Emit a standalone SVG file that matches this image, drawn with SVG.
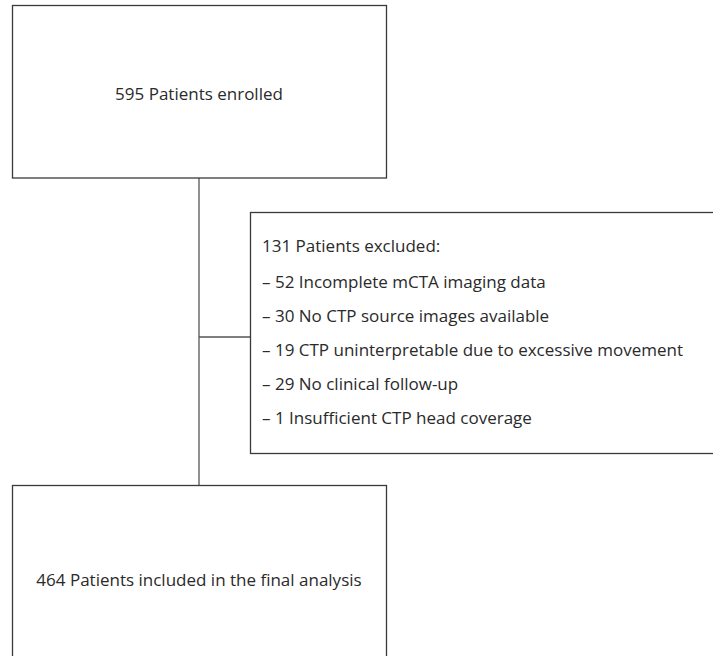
<svg xmlns="http://www.w3.org/2000/svg" width="713" height="656" viewBox="0 0 713 656">
<style>
.box{fill:#fff;stroke:#3a3a3a;stroke-width:1.3}
.ln{stroke:#555;stroke-width:1.3;fill:none}
text{font-family:"Open Sans","Liberation Sans",sans-serif;font-size:17px;fill:#2a2a2a}
.c{text-anchor:middle}
</style>
<rect width="713" height="656" fill="#fff"/>
<g id="connectors">
<line class="ln" x1="199" y1="178" x2="199" y2="485"/>
<line class="ln" x1="199" y1="337" x2="250" y2="337"/>
</g>
<g id="enrolled">
<rect class="box" x="12.5" y="5.5" width="374" height="172.5"/>
<text class="c" x="199" y="100">595 Patients enrolled</text>
</g>
<g id="excluded">
<rect class="box" x="250.5" y="212.5" width="470" height="241"/>
<text x="262" y="252">131 Patients excluded:</text>
<text x="262" y="288">– 52 Incomplete mCTA imaging data</text>
<text x="262" y="322">– 30 No CTP source images available</text>
<text x="262" y="356">– 19 CTP uninterpretable due to excessive movement</text>
<text x="262" y="390">– 29 No clinical follow-up</text>
<text x="262" y="424">– 1 Insufficient CTP head coverage</text>
</g>
<g id="included">
<rect class="box" x="12.5" y="485.5" width="374" height="200"/>
<text class="c" x="199" y="586">464 Patients included in the final analysis</text>
</g>
</svg>
